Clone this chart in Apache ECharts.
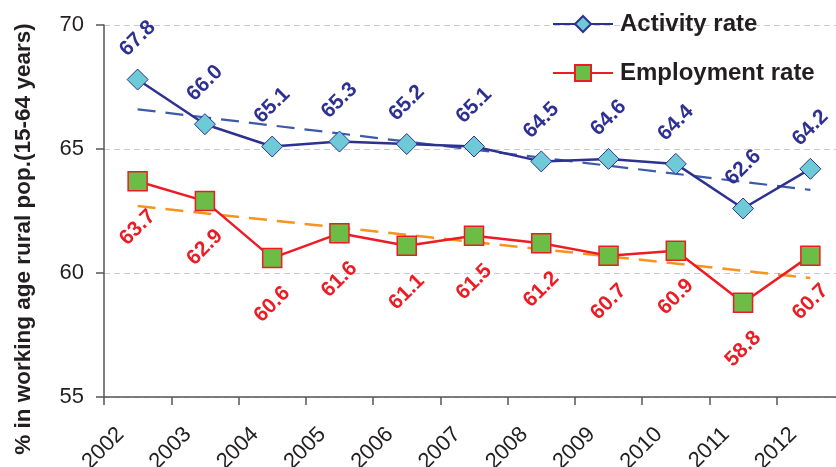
<!DOCTYPE html>
<html>
<head>
<meta charset="utf-8">
<script src="https://cdn.jsdelivr.net/npm/echarts@6/dist/echarts.min.js"></script>
<style>
  html, body { margin: 0; padding: 0; background: #fff; }
  #chart { width: 836px; height: 467px; }
</style>
</head>
<body>
<div id="chart"></div>
<script>
// Rural labour market indicators, 2002-2012
const years = ['2002', '2003', '2004', '2005', '2006', '2007', '2008', '2009', '2010', '2011', '2012'];
const activityRate = [67.8, 66.0, 65.1, 65.3, 65.2, 65.1, 64.5, 64.6, 64.4, 62.6, 64.2];
const employmentRate = [63.7, 62.9, 60.6, 61.6, 61.1, 61.5, 61.2, 60.7, 60.9, 58.8, 60.7];
// Linear trend end values (first and last year)
const activityTrend = [66.6, 63.35];
const employmentTrend = [62.7, 59.8];
const yTicks = { min: 55, max: 70, step: 5 };
const yAxisTitle = '% in working age rural pop.(15-64 years)';

const NAVY = '#2E3192';
const RED = '#ED1C24';
const FONT = '"Liberation Sans", Arial, sans-serif';

function trendData(ends) {
  const d = years.map(() => null);
  d[0] = ends[0];
  d[years.length - 1] = ends[1];
  return d;
}

const chart = echarts.init(document.getElementById('chart'), null, { renderer: 'canvas' });

chart.setOption({
  animation: false,
  backgroundColor: '#ffffff',
  grid: { left: 104, right: -8, top: 25, bottom: 70, containLabel: false, outerBoundsMode: 'none' },
  legend: {
    orient: 'vertical',
    left: 547,
    top: 7,
    itemWidth: 60,
    itemHeight: 20,
    itemGap: 25,
    data: ['Activity rate', 'Employment rate'],
    textStyle: { fontFamily: FONT, fontSize: 24, fontWeight: 'bold', color: '#231F20', padding: [0, 0, 0, 2] }
  },
  xAxis: {
    type: 'category',
    data: years,
    boundaryGap: true,
    axisLine: { lineStyle: { color: '#555', width: 1.5 } },
    axisTick: { show: true, length: 8, lineStyle: { color: '#555', width: 1.5 } },
    axisLabel: {
      rotate: 45,
      margin: 17,
      padding: [0, 24, 0, 0],
      fontFamily: FONT,
      fontSize: 22,
      color: '#231F20'
    },
    splitLine: { show: false }
  },
  yAxis: {
    type: 'value',
    min: yTicks.min,
    max: yTicks.max,
    interval: yTicks.step,
    axisLine: { show: true, lineStyle: { color: '#555', width: 1.5 } },
    axisTick: { show: true, length: 8, lineStyle: { color: '#555', width: 1.5 } },
    axisLabel: { margin: 20, fontFamily: FONT, fontSize: 22, color: '#231F20' },
    splitLine: { show: true, lineStyle: { color: '#C9C9DF', type: [6, 4], width: 1 } }
  },
  graphic: [{
    type: 'text',
    x: 24,
    y: 239,
    rotation: Math.PI / 2,
    style: {
      text: yAxisTitle,
      font: 'bold 22.5px ' + FONT,
      fill: '#231F20',
      align: 'center',
      verticalAlign: 'middle'
    }
  }],
  series: [
    {
      name: 'Activity trend',
      type: 'line',
      data: trendData(activityTrend),
      connectNulls: true,
      symbol: 'none',
      silent: true,
      z: 1,
      lineStyle: { color: '#3D5AAA', width: 2.2, type: [18, 10] }
    },
    {
      name: 'Employment trend',
      type: 'line',
      data: trendData(employmentTrend),
      connectNulls: true,
      symbol: 'none',
      silent: true,
      z: 1,
      lineStyle: { color: '#F7941D', width: 2.5, type: [18, 10] }
    },
    {
      name: 'Activity rate',
      type: 'line',
      data: activityRate,
      z: 3,
      symbol: 'diamond',
      symbolSize: 21,
      lineStyle: { color: NAVY, width: 2.5 },
      itemStyle: { color: '#6DCAD6', borderColor: NAVY, borderWidth: 1 },
      label: {
        show: true,
        position: 'top',
        distance: 30,
        rotate: 45,
        align: 'center',
        verticalAlign: 'middle',
        formatter: p => p.value.toFixed(1),
        fontFamily: FONT,
        fontSize: 21,
        fontWeight: 'bold',
        color: NAVY
      }
    },
    {
      name: 'Employment rate',
      type: 'line',
      z: 3,
      data: employmentRate,
      symbol: 'rect',
      symbolSize: 19,
      lineStyle: { color: RED, width: 2.5 },
      itemStyle: { color: '#6CBD45', borderColor: RED, borderWidth: 1.5 },
      label: {
        show: true,
        position: 'bottom',
        distance: 36,
        rotate: 45,
        align: 'center',
        verticalAlign: 'middle',
        formatter: p => p.value.toFixed(1),
        fontFamily: FONT,
        fontSize: 21,
        fontWeight: 'bold',
        color: RED
      }
    }
  ]
});
</script>
</body>
</html>
